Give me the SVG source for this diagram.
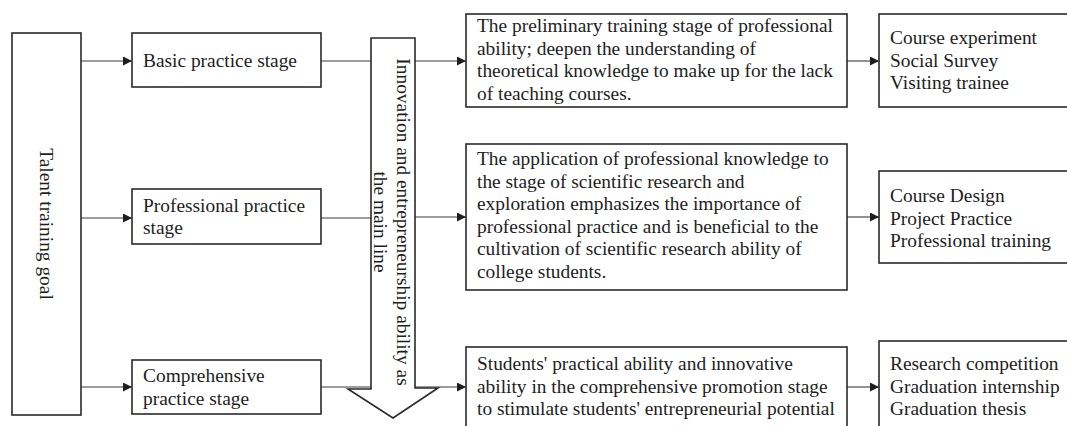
<svg xmlns="http://www.w3.org/2000/svg" width="1067" height="426" viewBox="0 0 1067 426">
<defs>
<style>
.box{fill:#fff;stroke:#2a2a2a;stroke-width:1.6}
.t{font-family:"Liberation Serif","Times New Roman",serif;font-size:19.4px;fill:#1e1e1e}
.c{fill:none;stroke:#3a3a3a;stroke-width:1.1}
</style>
<marker id="ah" viewBox="0 0 10 10" refX="10" refY="5" markerWidth="9" markerHeight="9" markerUnits="userSpaceOnUse" orient="auto">
<path d="M0,0 L10,5 L0,10 z" fill="#1e1e1e"/>
</marker>
</defs>
<rect width="1067" height="426" fill="#fff"/>

<g id="connectors">
<line class="c" x1="81" y1="61" x2="132" y2="61" marker-end="url(#ah)"/>
<line class="c" x1="81" y1="218" x2="132" y2="218" marker-end="url(#ah)"/>
<line class="c" x1="81" y1="387" x2="132" y2="387" marker-end="url(#ah)"/>
<line class="c" x1="321" y1="61" x2="371" y2="61"/>
<line class="c" x1="321" y1="218" x2="371" y2="218"/>
<line class="c" x1="321" y1="387" x2="371" y2="387"/>
<line class="c" x1="415" y1="61" x2="466" y2="61" marker-end="url(#ah)"/>
<line class="c" x1="415" y1="217" x2="466" y2="217" marker-end="url(#ah)"/>
<line class="c" x1="415" y1="387" x2="466" y2="387" marker-end="url(#ah)"/>
<line class="c" x1="847" y1="61" x2="879" y2="61" marker-end="url(#ah)"/>
<line class="c" x1="847" y1="217" x2="879" y2="217" marker-end="url(#ah)"/>
<line class="c" x1="847" y1="387" x2="879" y2="387" marker-end="url(#ah)"/>
</g>

<g id="goal">
<rect class="box" x="12" y="33" width="69" height="382"/>
<text class="t" transform="translate(40,224) rotate(90)" text-anchor="middle">Talent training goal</text>
</g>

<g id="basic">
<rect class="box" x="132" y="33" width="189" height="54"/>
<text class="t" x="143" y="67">Basic practice stage</text>
</g>

<g id="professional">
<rect class="box" x="132" y="189" width="189" height="55"/>
<text class="t" x="143" y="212">Professional practice</text>
<text class="t" x="143" y="234">stage</text>
</g>

<g id="comprehensive">
<rect class="box" x="132" y="360" width="189" height="54"/>
<text class="t" x="143" y="382">Comprehensive</text>
<text class="t" x="143" y="405">practice stage</text>
</g>

<g id="mainline">
<polygon class="box" points="371,38 415,38 415,388 438,388 393,418 348,389 371,389"/>
<text class="t" transform="translate(397,222) rotate(90)" text-anchor="middle">Innovation and entrepreneurship ability as</text>
<text class="t" transform="translate(374,222) rotate(90)" text-anchor="middle">the main line</text>
</g>

<g id="desc1">
<rect class="box" x="466" y="14" width="381" height="93"/>
<text class="t" x="477" y="32">The preliminary training stage of professional</text>
<text class="t" x="477" y="54.5">ability; deepen the understanding of</text>
<text class="t" x="477" y="77">theoretical knowledge to make up for the lack</text>
<text class="t" x="477" y="99.5">of teaching courses.</text>
</g>

<g id="desc2">
<rect class="box" x="466" y="144" width="381" height="146"/>
<text class="t" x="477" y="165">The application of professional knowledge to</text>
<text class="t" x="477" y="187.6">the stage of scientific research and</text>
<text class="t" x="477" y="210.2">exploration emphasizes the importance of</text>
<text class="t" x="477" y="232.8">professional practice and is beneficial to the</text>
<text class="t" x="477" y="255.4">cultivation of scientific research ability of</text>
<text class="t" x="477" y="278">college students.</text>
</g>

<g id="desc3">
<rect class="box" x="466" y="347" width="381" height="90"/>
<text class="t" x="477" y="370">Students' practical ability and innovative</text>
<text class="t" x="477" y="392.5">ability in the comprehensive promotion stage</text>
<text class="t" x="477" y="415">to stimulate students' entrepreneurial potential</text>
</g>

<g id="act1">
<rect class="box" x="879" y="14" width="200" height="93"/>
<text class="t" x="890" y="44">Course experiment</text>
<text class="t" x="890" y="66.5">Social Survey</text>
<text class="t" x="890" y="89">Visiting trainee</text>
</g>

<g id="act2">
<rect class="box" x="879" y="171" width="200" height="92"/>
<text class="t" x="890" y="202">Course Design</text>
<text class="t" x="890" y="224.5">Project Practice</text>
<text class="t" x="890" y="247">Professional training</text>
</g>

<g id="act3">
<rect class="box" x="879" y="341" width="200" height="100"/>
<text class="t" x="890" y="370">Research competition</text>
<text class="t" x="890" y="392.5">Graduation internship</text>
<text class="t" x="890" y="415">Graduation thesis</text>
</g>
</svg>
